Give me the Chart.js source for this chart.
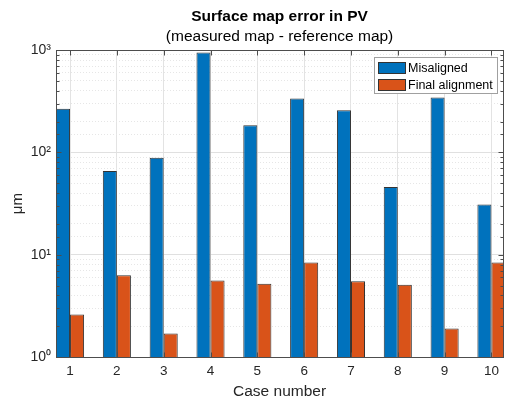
<!DOCTYPE html>
<html>
<head>
<meta charset="utf-8">
<script src="https://cdn.jsdelivr.net/npm/chart.js@4"></script>
<style>
  body { margin: 0; background: #fff; }
  #wrap { width: 505px; height: 399px; }
</style>
</head>
<body>
<div id="wrap"><canvas id="bar-chart"></canvas></div>
<script>
// datos
const caseNumbers = [1, 2, 3, 4, 5, 6, 7, 8, 9, 10];
const misaligned = [268, 66, 89, 950, 185, 337, 258, 46, 344, 31];
const finalAlignment = [2.6, 6.3, 1.7, 5.6, 5.2, 8.4, 5.5, 5.1, 1.9, 8.4];
const yTickLabels = { 1: '10⁰', 10: '10¹', 100: '10²', 1000: '10³' };

const fontName = "'Liberation Sans', Arial, sans-serif";
const textColor = '#262626';

// caja del eje, marcas hacia dentro y leyenda dentro del area
const boxAndLegend = {
  id: 'boxAndLegend',
  afterDraw(chart) {
    const ctx = chart.ctx;
    const a = chart.chartArea;
    const L = Math.round(a.left) + 0.5, R = Math.round(a.right) + 0.5;
    const T = Math.round(a.top) + 0.5, B = Math.round(a.bottom) + 0.5;
    ctx.save();
    ctx.strokeStyle = '#4d4d4d';
    ctx.lineWidth = 1;
    ctx.strokeRect(L, T, R - L, B - T);

    // marcas
    ctx.beginPath();
    chart.scales.x.ticks.forEach(t => {
      const px = Math.round(chart.scales.x.getPixelForValue(t.value)) + 0.5;
      ctx.moveTo(px, B); ctx.lineTo(px, B - 5);
      ctx.moveTo(px, T); ctx.lineTo(px, T + 5);
    });
    chart.scales.y.ticks.forEach(t => {
      const py = Math.round(chart.scales.y.getPixelForValue(t.value)) + 0.5;
      const len = yTickLabels[t.value] ? 5 : 3;
      ctx.moveTo(L, py); ctx.lineTo(L + len, py);
      ctx.moveTo(R, py); ctx.lineTo(R - len, py);
    });
    ctx.stroke();

    const lx = 374, ly = 57, lw = 123, lh = 36;
    ctx.fillStyle = '#fff';
    ctx.fillRect(lx, ly, lw, lh);
    ctx.strokeStyle = '#a0a0a0';
    ctx.strokeRect(lx + 0.5, ly + 0.5, lw, lh);
    ctx.font = '12.5px ' + fontName;
    ctx.textBaseline = 'middle';
    chart.data.datasets.forEach((ds, i) => {
      const y = ly + 5 + i * 17;
      ctx.fillStyle = ds.backgroundColor;
      ctx.fillRect(lx + 4, y, 28, 12);
      ctx.strokeStyle = '#333';
      ctx.strokeRect(lx + 4.5, y + 0.5, 27, 11);
      ctx.fillStyle = '#000';
      ctx.fillText(ds.label, lx + 34, y + 6.5);
    });
    ctx.restore();
  }
};

const contenedorBarChart = document.querySelector('#bar-chart').getContext('2d');

const barChart = new Chart(contenedorBarChart, {
  type: 'bar',
  data: {
    datasets: [
      {
        label: 'Misaligned',
        data: caseNumbers.map((c, i) => ({ x: c, y: misaligned[i] })),
        backgroundColor: '#0072BD',
        borderColor: '#333333',
        borderWidth: 1,
        inflateAmount: 0,
        categoryPercentage: 0.6,
        barPercentage: 1.0,
      },
      {
        label: 'Final alignment',
        data: caseNumbers.map((c, i) => ({ x: c, y: finalAlignment[i] })),
        backgroundColor: '#D95319',
        borderColor: '#333333',
        borderWidth: 1,
        inflateAmount: 0,
        categoryPercentage: 0.6,
        barPercentage: 1.0,
      }
    ]
  },
  options: {
    responsive: true,
    maintainAspectRatio: false,
    animation: false,
    layout: { padding: { left: 0, right: 1, top: 0, bottom: 0 } },
    plugins: {
      legend: { display: false },
      tooltip: { enabled: false },
      title: {
        display: true,
        text: 'Surface map error in PV',
        fullSize: false,
        color: '#000',
        font: { family: fontName, size: 15.5, weight: 'bold' },
        padding: { top: 7, bottom: 2 }
      },
      subtitle: {
        display: true,
        text: '(measured map - reference map)',
        fullSize: false,
        color: '#000',
        font: { family: fontName, size: 15.5 },
        padding: { top: 0, bottom: 4 }
      }
    },
    scales: {
      x: {
        type: 'linear',
        offset: false,
        min: 0.7,
        max: 10.25,
        afterBuildTicks(scale) {
          scale.ticks = caseNumbers.map(v => ({ value: v }));
        },
        afterFit(scale) { scale.height = 42; },
        grid: { color: '#e3e3e3', drawTicks: false, offset: false },
        border: { display: false },
        ticks: {
          color: textColor,
          font: { family: fontName, size: 13.5 },
          padding: 6,
          autoSkip: false,
          maxRotation: 0
        },
        title: {
          display: true,
          text: 'Case number',
          color: textColor,
          font: { family: fontName, size: 15.5, lineHeight: 1 },
          padding: { top: 0, bottom: 0 }
        }
      },
      y: {
        type: 'logarithmic',
        min: 1,
        max: 1000,
        afterFit(scale) { scale.width = 56; },
        grid: {
          drawTicks: false,
          color: (ctx) => (ctx.tick && yTickLabels[ctx.tick.value]) ? '#e0e0e0' : '#e6e6e6'
        },
        border: {
          display: false,
          dash: (ctx) => (ctx.tick && !yTickLabels[ctx.tick.value]) ? [1, 2] : []
        },
        ticks: {
          color: textColor,
          font: { family: fontName, size: 14 },
          padding: 5,
          autoSkip: false,
          callback: (value) => yTickLabels[value] || ''
        },
        title: {
          display: true,
          text: 'μm',
          color: textColor,
          font: { family: fontName, size: 15 },
          padding: { top: 9, bottom: 0 }
        }
      }
    }
  },
  plugins: [boxAndLegend]
});
</script>
</body>
</html>
